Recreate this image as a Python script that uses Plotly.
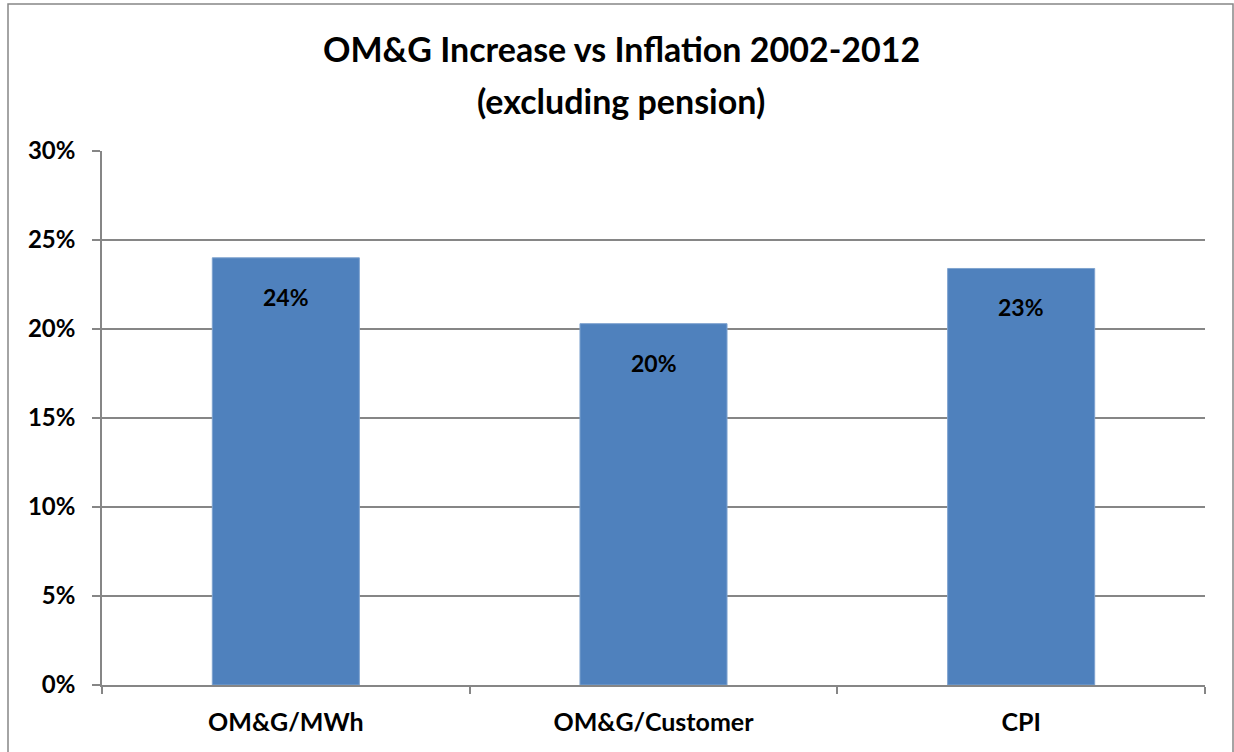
import plotly.graph_objects as go

categories = ["OM&G/MWh", "OM&G/Customer", "CPI"]
increase = [0.24, 0.203, 0.234]
y_ticks = [0, 0.05, 0.10, 0.15, 0.20, 0.25, 0.30]
y_tick_text = ["0%", "5%", "10%", "15%", "20%", "25%", "30%"]

W, H = 1234, 752
L, R, T, B = 102, 1205, 151, 685
GRAY = "#868686"
FONT = "Lato"

fig = go.Figure(
    go.Bar(
        x=categories,
        y=increase,
        width=0.4,
        marker=dict(color="#4F81BD", line=dict(color="#7FA3CF", width=1)),
        hoverinfo="skip",
    )
)

# value labels sitting inside each bar, just below its top
for c, v in zip(categories, increase):
    fig.add_annotation(
        x=c, y=v, xref="x", yref="y",
        text=f"{v:.0%}", showarrow=False,
        yshift=-39, yanchor="middle",
        font=dict(family=FONT, size=23, color="black", weight="bold"),
    )

# two-line title
def px_x(px):
    return (px - L) / (R - L)

def px_y(py):
    return (B - py) / (B - T)

for text, yc in [("OM&G Increase vs Inflation 2002-2012", 48),
                 ("(excluding pension)", 100)]:
    fig.add_annotation(
        x=px_x(621), y=px_y(yc), xref="paper", yref="paper",
        text=text, showarrow=False, xanchor="center", yanchor="middle",
        font=dict(family=FONT, size=34, color="black", weight="bold"),
    )

# outer chart border
fig.add_shape(
    type="rect", xref="paper", yref="paper",
    x0=px_x(8), x1=px_x(1233), y0=px_y(760), y1=px_y(4),
    line=dict(color=GRAY, width=1.5), fillcolor="rgba(0,0,0,0)", layer="below",
)

fig.update_layout(
    width=W, height=H,
    margin=dict(l=L, r=W - R, t=T, b=H - B, pad=0),
    paper_bgcolor="white", plot_bgcolor="white",
    showlegend=False,
    bargap=0.6,
    xaxis=dict(
        type="category",
        showline=True, linecolor=GRAY, linewidth=1.5,
        ticks="outside", tickson="boundaries", ticklen=7, tickcolor=GRAY, tickwidth=1.5,
        showgrid=False,
        ticklabelstandoff=14,
        tickfont=dict(family=FONT, size=25, color="black", weight="bold"),
    ),
    yaxis=dict(
        range=[0, 0.30],
        tickvals=y_ticks, ticktext=y_tick_text,
        showline=True, linecolor=GRAY, linewidth=1.5,
        ticks="outside", ticklen=8, tickcolor=GRAY, tickwidth=1.5,
        showgrid=True, gridcolor=GRAY, gridwidth=1.5,
        zeroline=False,
        ticklabelstandoff=12,
        tickfont=dict(family=FONT, size=24, color="black", weight="bold"),
    ),
)

fig.write_html("out.html")
